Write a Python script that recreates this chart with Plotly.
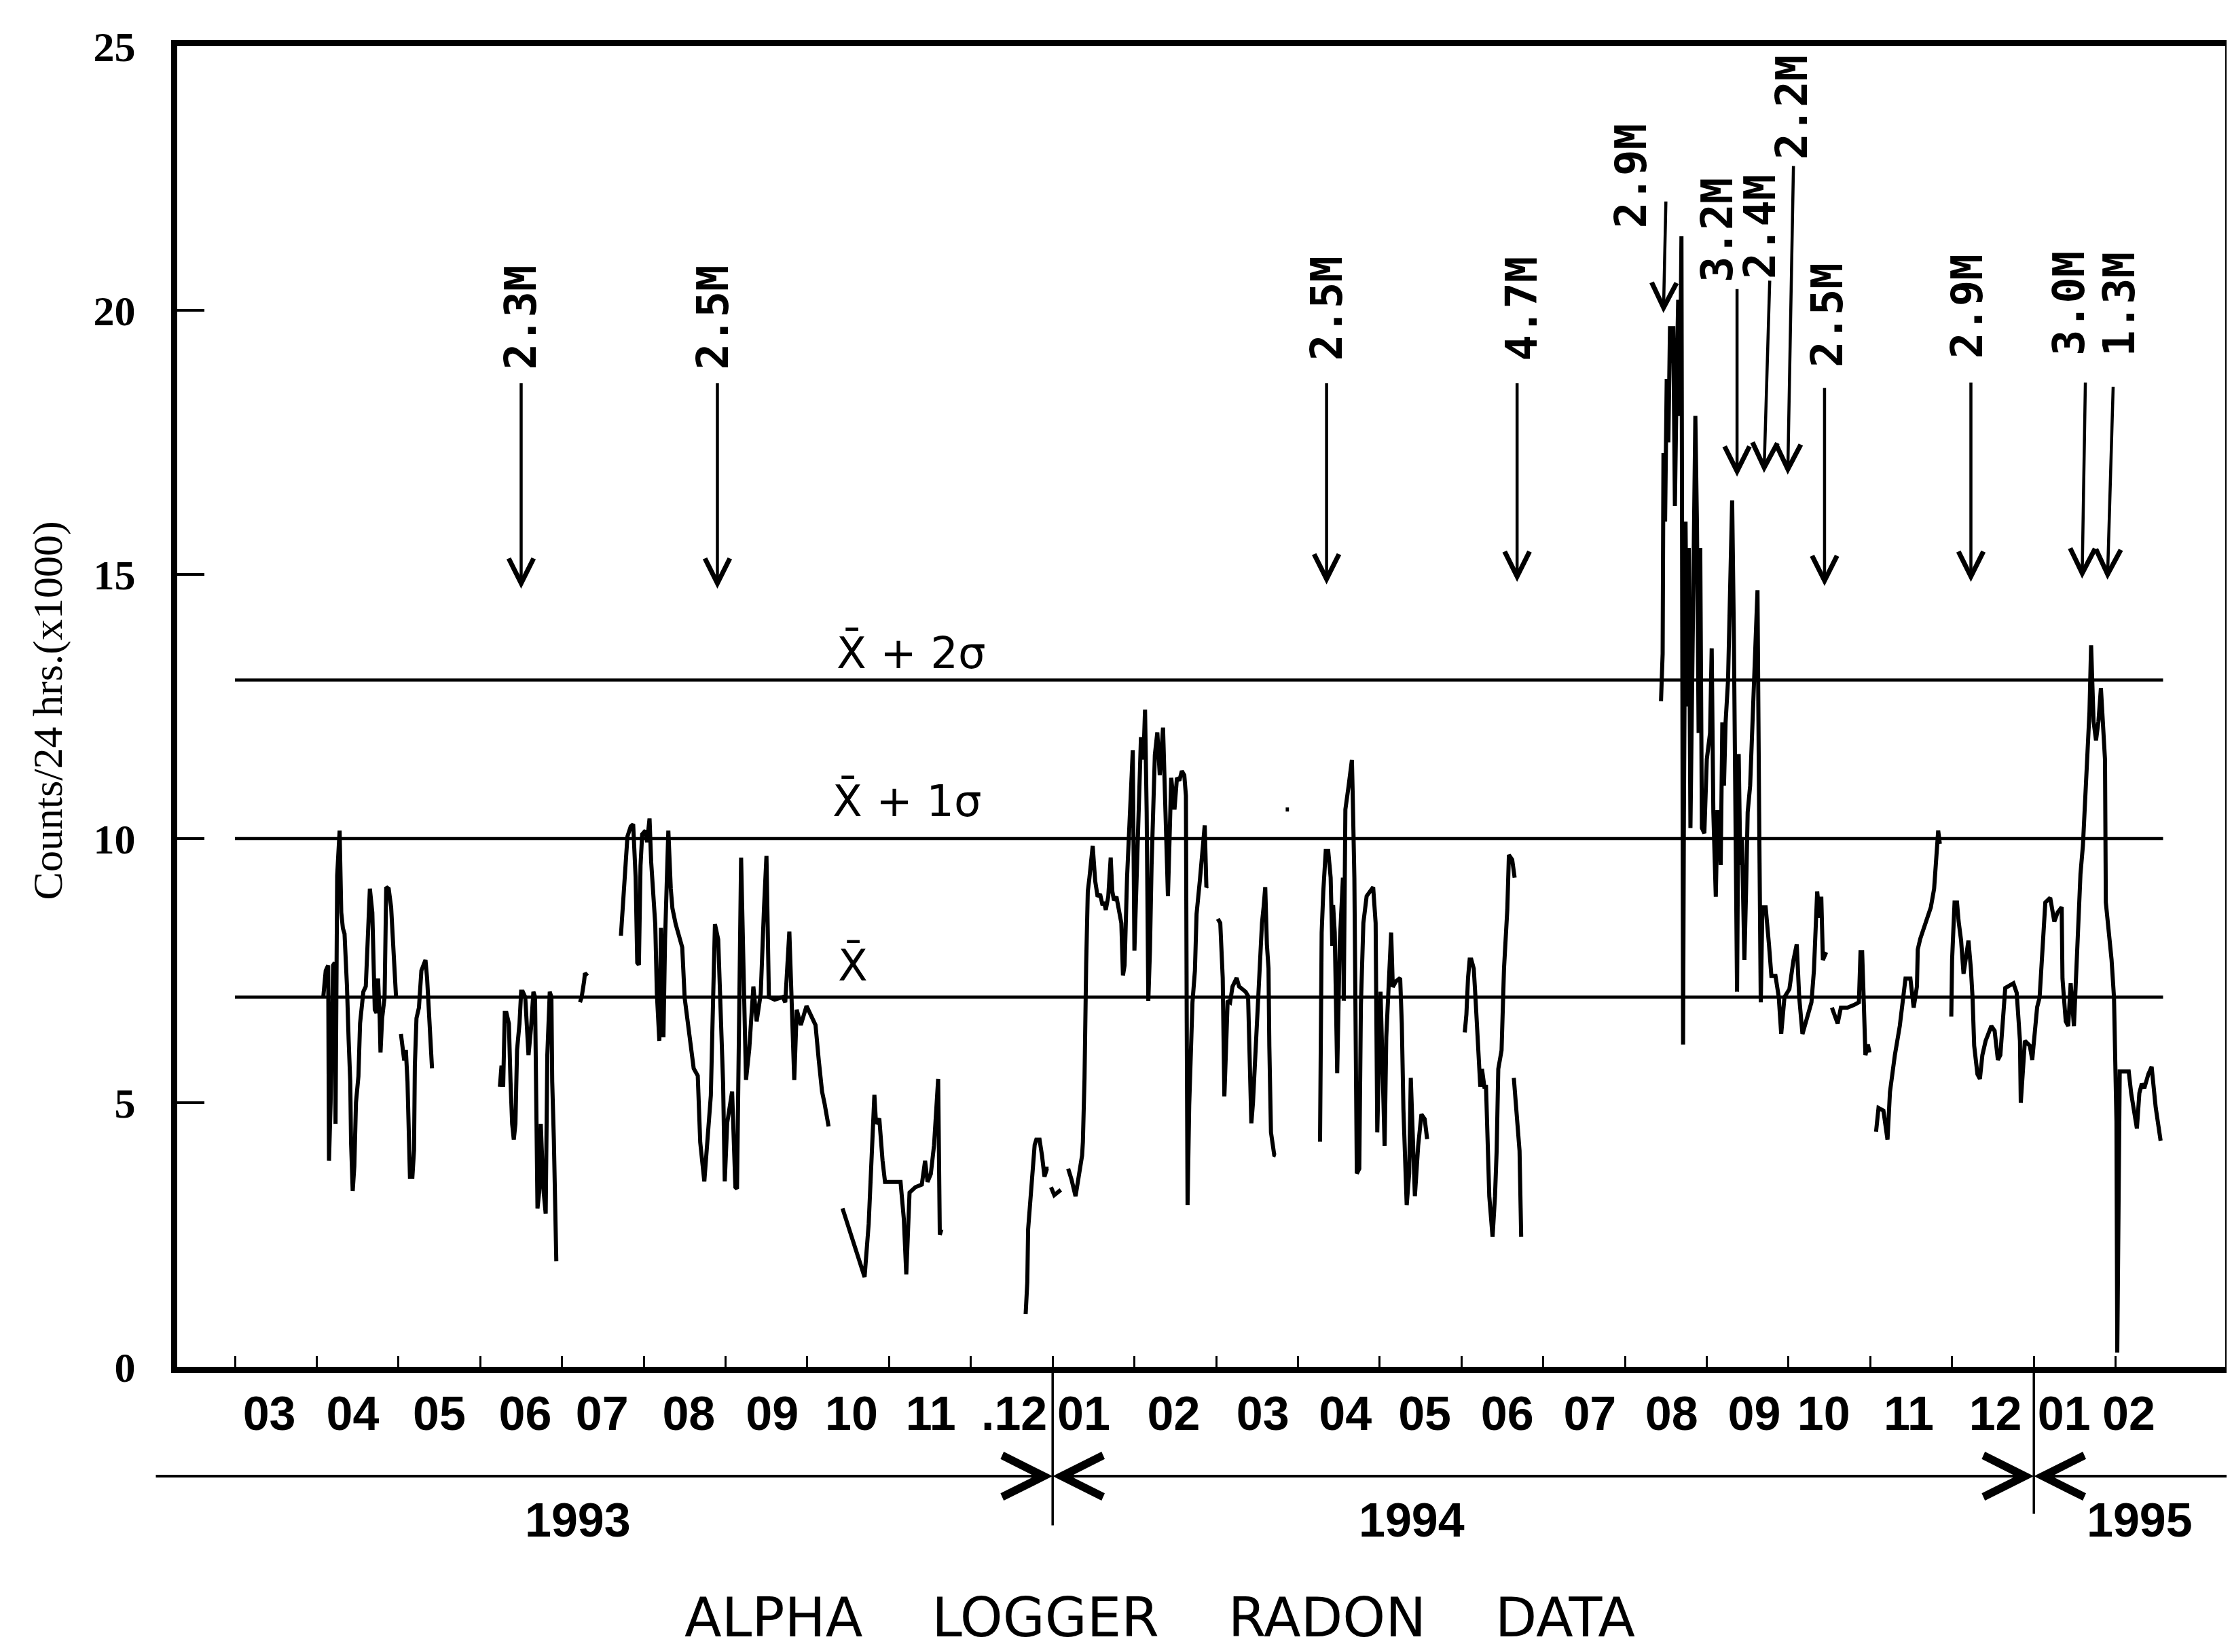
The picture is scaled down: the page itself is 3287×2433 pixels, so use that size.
import plotly.graph_objects as go

# ---------------- DATA ----------------
# t = months since 1 March 1993 (0 = start of "03" 1993), v = counts / 24 hrs (x1000)
apr93_t = [1.08, 1.11, 1.14, 1.15, 1.17, 1.20, 1.22, 1.23, 1.25, 1.28, 1.30, 1.32, 1.34, 1.36, 1.37, 1.39, 1.41, 1.42,
           1.44, 1.46, 1.48, 1.51, 1.53, 1.55, 1.57, 1.60, 1.62, 1.63, 1.65, 1.68, 1.69, 1.71, 1.73, 1.75, 1.77, 1.78,
           1.80, 1.83, 1.85, 1.88, 1.91, 1.94, 1.96, 1.97]
apr93_v = [7.0, 7.5, 7.6, 3.9, 5.0, 7.6, 7.65, 4.6, 9.3, 10.15, 8.6, 8.3, 8.2, 7.6, 7.2, 6.2, 5.4, 4.25,
           3.33, 3.8, 5.0, 5.5, 6.5, 6.8, 7.1, 7.2, 8.1, 8.6, 9.05, 8.6, 7.8, 6.76, 6.7, 7.35, 6.6, 5.95,
           6.6, 7.0, 9.08, 9.05, 8.7, 7.8, 7.35, 7.0]

may93_t = [2.03, 2.05, 2.07, 2.09, 2.11, 2.14, 2.17, 2.19, 2.20, 2.22, 2.25, 2.28, 2.31, 2.33, 2.35, 2.38, 2.40, 2.41]
may93_v = [6.3, 5.95, 5.8, 6.0, 5.4, 3.6, 3.6, 4.1, 5.7, 6.6, 6.8, 7.5, 7.65, 7.7, 7.35, 6.6, 5.8, 5.65]

jun93_t = [3.24, 3.26, 3.28, 3.30, 3.32, 3.35, 3.37, 3.39, 3.41, 3.43, 3.45, 3.48, 3.50, 3.52, 3.55, 3.59, 3.62, 3.65,
           3.67, 3.69, 3.70, 3.72, 3.74, 3.77, 3.80, 3.82, 3.85, 3.87, 3.88, 3.90, 3.92, 3.93]
jun93_v = [5.3, 5.7, 5.3, 6.7, 6.7, 6.5, 5.4, 4.6, 4.3, 4.6, 6.0, 6.5, 7.1, 7.1, 7.0, 5.9, 6.4, 7.1,
           7.0, 5.1, 3.0, 3.3, 4.6, 3.4, 2.9, 5.9, 7.1, 7.0, 5.4, 4.3, 2.0, 2.0]

jul93_t = [4.22, 4.24, 4.27, 4.28, 4.31]
jul93_v = [6.9, 7.0, 7.3, 7.45, 7.4]

aug93_t = [4.72, 4.76, 4.78, 4.80, 4.84, 4.87, 4.90, 4.92, 4.94, 4.96, 4.98, 5.02, 5.04, 5.07, 5.09, 5.11, 5.14, 5.16,
           5.19, 5.21, 5.24, 5.26, 5.30, 5.33, 5.35, 5.39, 5.43, 5.47, 5.50, 5.53, 5.58, 5.61, 5.66, 5.69, 5.74, 5.78,
           5.82, 5.84, 5.87, 5.91, 5.94, 5.97, 5.99, 6.02, 6.08, 6.12, 6.14, 6.17, 6.19, 6.22, 6.25, 6.29, 6.34, 6.38,
           6.43, 6.47, 6.50, 6.53, 6.60, 6.70, 6.73, 6.78, 6.84, 6.87, 6.92, 6.99, 7.05, 7.10, 7.14, 7.18, 7.21, 7.26]
aug93_v = [8.16, 9.05, 9.71, 10.04, 10.23, 10.27, 9.27, 7.65, 7.61, 9.49, 10.08, 10.15, 9.93, 10.38, 9.56, 9.12, 8.38, 7.06,
           6.17, 8.31, 6.24, 8.09, 10.15, 9.05, 8.68, 8.38, 8.16, 7.94, 6.98, 6.61, 5.87, 5.65, 5.51, 4.25, 3.51, 4.25,
           5.14, 6.47, 8.38, 8.09, 6.47, 5.36, 3.51, 4.62, 5.21, 3.4, 3.37, 6.9, 9.64, 7.5, 5.43, 6.02, 7.2, 6.54,
           7.06, 8.68, 9.67, 7.0, 6.95, 7.0, 6.9, 8.24, 5.43, 6.76, 6.47, 6.83, 6.61, 6.47, 5.8, 5.21, 4.99, 4.55]

oct93_t = [7.43, 7.55, 7.62, 7.70, 7.75, 7.79, 7.82, 7.84, 7.88, 7.92, 7.95, 8.01, 8.14, 8.18, 8.21, 8.25, 8.32, 8.40,
           8.44, 8.47, 8.51, 8.55, 8.60, 8.62, 8.64]
oct93_v = [3.0, 2.4, 2.05, 1.7, 2.7, 4.25, 5.15, 4.6, 4.7, 3.9, 3.5, 3.5, 3.5, 2.8, 1.75, 3.3, 3.4, 3.45,
           3.9, 3.5, 3.65, 4.2, 5.45, 2.5, 2.6]

dec93_t = [9.67, 9.69, 9.70, 9.72, 9.75, 9.78, 9.80, 9.84, 9.87, 9.90, 9.93, 9.95]
dec93_v = [1.0, 1.6, 2.6, 3.0, 3.6, 4.2, 4.3, 4.3, 4.0, 3.6, 3.75, 3.75]

dec93b_t = [9.98, 10.02, 10.10]
dec93b_v = [3.4, 3.25, 3.35]

jan94_t = [10.19, 10.23, 10.28, 10.30, 10.32, 10.36, 10.37, 10.39, 10.41, 10.43, 10.45, 10.49, 10.52, 10.55, 10.58,
           10.61, 10.63, 10.65, 10.68, 10.71, 10.73, 10.75, 10.78, 10.80, 10.84, 10.86, 10.88, 10.91, 10.95, 10.98,
           11.00, 11.02, 11.05, 11.08, 11.11, 11.13, 11.15, 11.17, 11.19, 11.21, 11.25, 11.28, 11.31, 11.35, 11.38,
           11.41, 11.43, 11.45, 11.49, 11.52, 11.55, 11.58, 11.61, 11.63, 11.64, 11.65, 11.67, 11.69, 11.71, 11.74,
           11.76, 11.80, 11.84, 11.86, 11.88, 11.89]
jan94_v = [3.75, 3.55, 3.23, 3.4, 3.66, 4.0, 4.26, 5.47, 7.62, 9.0, 9.26, 9.86, 9.2, 8.9, 8.95,
           8.74, 8.8, 8.65, 8.9, 9.64, 9.0, 8.83, 8.9, 8.74, 8.4, 7.41, 7.6, 9.26, 10.5, 11.67,
           7.88, 8.83, 10.5, 11.92, 11.5, 12.44, 10.5, 6.93, 7.88, 9.5, 11.58, 12.01, 11.2, 12.1, 10.5,
           8.91, 10.0, 11.15, 10.55, 11.15, 11.1, 11.28, 11.2, 10.81, 6.5, 3.06, 4.95, 6.0, 6.9, 7.5,
           8.57, 9.2, 9.9, 10.25, 9.08, 9.1]

mar94_t = [12.02, 12.05, 12.08, 12.10, 12.12, 12.14, 12.17, 12.20, 12.25, 12.28, 12.32, 12.36, 12.39, 12.41, 12.43,
           12.45, 12.47, 12.49, 12.51, 12.53, 12.56, 12.58, 12.60, 12.62, 12.64, 12.65, 12.67, 12.71, 12.73]
mar94_v = [8.48, 8.4, 7.36, 5.12, 6.0, 6.93, 6.9, 7.2, 7.36, 7.2, 7.15, 7.1, 7.02, 6.0, 4.61,
           5.0, 5.64, 6.2, 6.67, 7.54, 8.4, 8.7, 9.08, 8.0, 7.54, 6.07, 4.44, 4.01, 4.0]

speck94_t = [12.85, 12.89]
speck94_v = [10.55, 10.55]

apr94_t = [13.27, 13.29, 13.31, 13.32, 13.34, 13.37, 13.40, 13.42, 13.43, 13.45, 13.48, 13.51, 13.55, 13.56, 13.58,
           13.62, 13.66, 13.67, 13.69, 13.72, 13.75, 13.77, 13.80, 13.84, 13.88, 13.92, 13.95, 13.97, 14.01, 14.06,
           14.08, 14.12, 14.14, 14.16, 14.20, 14.25, 14.27, 14.29, 14.33, 14.36, 14.38, 14.43, 14.47, 14.51, 14.55,
           14.58]
apr94_v = [4.26, 8.22, 9.0, 9.43, 9.77, 9.77, 9.26, 7.97, 8.74, 8.22, 5.56, 7.97, 9.26, 6.93, 10.55,
           11.0, 11.49, 10.81, 9.26, 3.66, 3.75, 6.85, 8.4, 8.91, 9.0, 9.08, 8.4, 4.44, 7.1, 4.18,
           6.24, 7.5, 8.22, 7.19, 7.3, 7.36, 6.5, 4.87, 3.06, 3.66, 5.47, 3.23, 4.18, 4.78, 4.69,
           4.31]

jun94_t = [15.04, 15.06, 15.08, 15.10, 15.12, 15.15, 15.17, 15.19, 15.21, 15.23, 15.25, 15.28, 15.30, 15.32, 15.34,
           15.38, 15.41, 15.43, 15.45, 15.49, 15.52, 15.56, 15.58, 15.62, 15.65]
jun94_v = [6.33, 6.67, 7.36, 7.71, 7.71, 7.54, 7.02, 6.5, 5.81, 5.3, 5.64, 5.3, 5.3, 4.09, 3.23,
           2.46, 3.23, 4.09, 5.64, 5.99, 7.54, 8.65, 9.69, 9.6, 9.26]

jun94b_t = [15.64, 15.67, 15.71, 15.73]
jun94b_v = [5.47, 4.95, 4.09, 2.46]

aug94_t = [17.44, 17.46, 17.47, 17.49, 17.51, 17.53, 17.55, 17.57, 17.59, 17.61, 17.63, 17.65, 17.67, 17.69, 17.70,
           17.71, 17.72, 17.74, 17.76, 17.78, 17.80, 17.82, 17.84, 17.86, 17.88, 17.90, 17.92, 17.94, 17.97, 18.00,
           18.04, 18.06, 18.08, 18.11, 18.13, 18.15, 18.17, 18.19, 18.21, 18.23, 18.26, 18.29, 18.31, 18.33, 18.35,
           18.37, 18.39, 18.41, 18.43, 18.46, 18.48, 18.50, 18.53, 18.56, 18.59, 18.62, 18.64, 18.66, 18.68, 18.72,
           18.76, 18.79, 18.84, 18.88, 18.91, 18.95, 19.01, 19.06, 19.10, 19.13, 19.17, 19.23, 19.28, 19.31, 19.33,
           19.35, 19.38, 19.40, 19.42, 19.46]
aug94_v = [12.6, 13.5, 17.3, 16.0, 18.7, 17.5, 19.7, 19.0, 19.7, 16.3, 18.5, 20.2, 18.0, 21.4, 14.0,
           6.1, 10.5, 16.0, 12.5, 15.5, 10.2, 13.0, 16.5, 18.0, 15.9, 12.0, 15.5, 10.2, 10.1, 11.5,
           12.0, 13.6, 10.5, 8.9, 10.5, 10.5, 9.5, 12.2, 11.0, 12.2, 13.0, 15.0, 16.4, 14.0, 10.0,
           7.1, 11.6, 9.5, 10.0, 7.7, 9.0, 10.5, 11.0, 12.2, 13.5, 14.7, 10.5, 6.9, 8.7, 8.7,
           8.0, 7.4, 7.4, 7.0, 6.3, 7.0, 7.15, 7.7, 8.0, 7.0, 6.3, 6.6, 6.9, 7.5, 8.5,
           9.0, 8.5, 8.9, 7.7, 7.85]

oct94_t = [19.53, 19.57, 19.60, 19.64, 19.72, 19.80, 19.86, 19.88, 19.90, 19.92, 19.94, 19.97, 19.99]
oct94_v = [6.8, 6.6, 6.5, 6.8, 6.8, 6.85, 6.9, 7.85, 7.85, 6.9, 5.9, 6.1, 5.95]

nov94_t = [20.07, 20.10, 20.16, 20.21, 20.24, 20.27, 20.30, 20.36, 20.40, 20.43, 20.49, 20.53, 20.57, 20.58, 20.61,
           20.68, 20.74, 20.78, 20.82, 20.83, 20.85]
nov94_v = [4.45, 4.9, 4.85, 4.3, 5.2, 5.6, 5.9, 6.45, 7.0, 7.35, 7.35, 6.8, 7.2, 7.9, 8.1,
           8.45, 8.7, 9.05, 9.95, 10.15, 9.9]

dec94_t = [20.99, 21.00, 21.03, 21.06, 21.08, 21.11, 21.14, 21.19, 21.20, 21.23, 21.25, 21.27, 21.31, 21.34, 21.37,
           21.41, 21.45, 21.48, 21.52, 21.56, 21.59, 21.62, 21.65, 21.75, 21.79, 21.83, 21.84, 21.89, 21.95, 21.98,
           22.04, 22.07, 22.11, 22.14, 22.20, 22.25, 22.29, 22.34, 22.35, 22.39, 22.42, 22.45, 22.49, 22.53, 22.57,
           22.60, 22.63, 22.66, 22.68, 22.70, 22.73, 22.76, 22.79, 22.82, 22.85, 22.87, 22.88, 22.91, 22.95, 22.98,
           22.99, 23.01, 23.02, 23.03, 23.05, 23.16, 23.19, 23.26, 23.29, 23.32, 23.35, 23.40, 23.44, 23.49, 23.52,
           23.55]
dec94_v = [6.63, 7.71, 8.79, 8.79, 8.43, 8.07, 7.44, 7.89, 8.07, 7.53, 6.99, 6.08, 5.54, 5.45, 5.9,
           6.17, 6.36, 6.45, 6.36, 5.81, 5.9, 6.63, 7.17, 7.26, 7.08, 6.17, 5.0, 6.17, 6.08, 5.81,
           6.81, 6.99, 7.98, 8.79, 8.88, 8.43, 8.6, 8.7, 7.35, 6.54, 6.45, 7.26, 6.45, 8.07, 9.33,
           9.87, 10.86, 11.95, 12.4, 13.66, 12.22, 11.86, 12.22, 12.85, 11.86, 11.49, 8.79, 8.34, 7.71, 6.99,
           6.08, 4.64, 0.27, 2.0, 5.59, 5.59, 5.18, 4.51, 5.18, 5.36, 5.27, 5.54, 5.68, 4.91, 4.64,
           4.28]

# statistics of the record
mean_level = 7.0
sigma = 3.0
stat_line_t = [0.0, 23.58]

# month tick labels (positions in t) and month boundaries
month_label_t = [0.42, 1.44, 2.50, 3.55, 4.49, 5.55, 6.57, 7.54, 8.51, 9.53, 10.38, 11.48,
                 12.57, 13.58, 14.55, 15.56, 16.57, 17.57, 18.58, 19.43, 20.47, 21.53, 22.37, 23.16]
month_labels = ["03", "04", "05", "06", "07", "08", "09", "10", "11", ".12", "01", "02",
                "03", "04", "05", "06", "07", "08", "09", "10", "11", "12", "01", "02"]
month_bounds = list(range(0, 24))
y_ticks = [0, 5, 10, 15, 20, 25]

# earthquakes (magnitude labels, arrow tip/tail, label centre)
quake_labels = ["2.3M", "2.5M", "2.5M", "4.7M", "2.9M", "3.2M", "2.4M", "2.2M", "2.5M", "2.9M", "3.0M", "1.3M"]
quake_tip_t = [3.50, 5.90, 13.35, 15.68, 17.47, 18.37, 18.70, 18.99, 19.44, 21.23, 22.59, 22.90]
quake_tip_v = [14.73, 14.73, 14.81, 14.86, 19.95, 16.85, 16.92, 16.89, 14.78, 14.86, 14.92, 14.90]
quake_tail_t = [3.50, 5.90, 13.35, 15.68, 17.50, 18.37, 18.77, 19.06, 19.44, 21.23, 22.63, 22.97]
quake_tail_v = [18.64, 18.64, 18.64, 18.64, 22.08, 20.42, 20.58, 22.75, 18.55, 18.65, 18.65, 18.57]
quake_label_t = [3.50, 5.85, 13.35, 15.73, 17.08, 18.13, 18.65, 19.04, 19.47, 21.18, 22.43, 23.04]
quake_label_v = [19.87, 19.87, 20.03, 20.03, 22.54, 21.52, 21.58, 23.84, 19.90, 20.08, 20.13, 20.12]

# years
year_labels = ["1993", "1994", "1995"]
year_label_t = [4.19, 14.39, 23.29]
year_bounds_t = [10.0, 22.0]
year_span_start_t = -0.98
year_span_end_t = 24.49

# ---------------- FIGURE ----------------
segments = [(apr93_t, apr93_v), (may93_t, may93_v), (jun93_t, jun93_v), (jul93_t, jul93_v),
            (aug93_t, aug93_v), (oct93_t, oct93_v), (dec93_t, dec93_v), (dec93b_t, dec93b_v),
            (jan94_t, jan94_v), (mar94_t, mar94_v), (speck94_t, speck94_v), (apr94_t, apr94_v),
            (jun94_t, jun94_v), (jun94b_t, jun94b_v), (aug94_t, aug94_v), (oct94_t, oct94_v),
            (nov94_t, nov94_v), (dec94_t, dec94_v)]
xs, ys = [], []
for st, sv in segments:
    xs += list(st) + [None]
    ys += list(sv) + [None]

W, H = 3287, 2433
BLACK = "black"
SANS = "Liberation Sans, Arial, sans-serif"
GAP = "\u00a0" * 4

fig = go.Figure()
for lvl in [mean_level, mean_level + sigma, mean_level + 2 * sigma]:
    fig.add_trace(go.Scatter(x=stat_line_t, y=[lvl, lvl], mode="lines",
                             line=dict(color=BLACK, width=4.5), hoverinfo="skip", showlegend=False))
fig.add_trace(go.Scatter(x=xs, y=ys, mode="lines", connectgaps=False,
                         line=dict(color=BLACK, width=6), showlegend=False))

ann = []
# earthquake arrows and labels
for lab, tt, tv, at, av, lt, lv in zip(quake_labels, quake_tip_t, quake_tip_v, quake_tail_t, quake_tail_v,
                                       quake_label_t, quake_label_v):
    ann.append(dict(x=tt, y=tv, xref="x", yref="y", ax=at, ay=av, axref="x", ayref="y", text="",
                    showarrow=True, arrowhead=5, arrowsize=1.6, arrowwidth=4.5, arrowcolor=BLACK))
    ann.append(dict(x=lt, y=lv, xref="x", yref="y", text=lab, showarrow=False, textangle=-90,
                    xanchor="center", yanchor="middle",
                    font=dict(family="DejaVu Sans Mono", size=64, color=BLACK, weight="bold")))

# statistic labels
stat_texts = ["X\u0304 + 2\u03c3", "X\u0304 + 1\u03c3", "X\u0304"]
stat_text_t = [8.27, 8.22, 7.56]
stat_text_v = [13.52, 10.71, 7.60]
for s, tt, vv in zip(stat_texts, stat_text_t, stat_text_v):
    ann.append(dict(x=tt, y=vv, xref="x", yref="y", text=s, showarrow=False, xanchor="center", yanchor="middle",
                    font=dict(family="DejaVu Sans", size=64, color=BLACK)))

# year span arrows
yl = -0.0828
head = dict(showarrow=True, arrowhead=5, arrowsize=3, arrowwidth=4, arrowcolor=BLACK, text="",
            xref="x", yref="paper", axref="x", ayref="pixel", ay=0)
ann.append(dict(x=year_bounds_t[0], y=yl, ax=year_span_start_t, **head))
mid94 = (year_bounds_t[0] + year_bounds_t[1]) / 2
ann.append(dict(x=year_bounds_t[0], y=yl, ax=mid94 + 0.5, **head))
ann.append(dict(x=year_bounds_t[1], y=yl, ax=mid94 - 0.5, **head))
ann.append(dict(x=year_bounds_t[1], y=yl, ax=year_span_end_t, **head))
# year dividers
for hb, ln in zip(year_bounds_t, [235, 218]):
    ann.append(dict(x=hb, y=0, xref="x", yref="paper", ax=0, ay=ln, axref="pixel", ayref="pixel", text="",
                    showarrow=True, arrowhead=0, arrowwidth=3.5, arrowcolor=BLACK, standoff=0))
for lab, tt in zip(year_labels, year_label_t):
    ann.append(dict(x=tt, y=-0.116, xref="x", yref="paper", text=lab, showarrow=False,
                    xanchor="center", yanchor="middle",
                    font=dict(family=SANS, size=70, color=BLACK, weight="bold")))

# title and y-axis label
ann.append(dict(x=11.31, y=-0.19, xref="x", yref="paper", showarrow=False, xanchor="center", yanchor="middle",
                text="ALPHA" + GAP + "LOGGER" + GAP + "RADON" + GAP + "DATA",
                font=dict(family="DejaVu Sans", size=80, color=BLACK)))
ann.append(dict(x=-0.0633, y=0.497, xref="paper", yref="paper", showarrow=False, textangle=-90,
                xanchor="center", yanchor="middle",
                text="Counts/24 hrs.(x1000)", font=dict(family="Liberation Serif", size=62, color=BLACK)))

fig.update_layout(
    width=W, height=H, paper_bgcolor="white", plot_bgcolor="white",
    margin=dict(l=253, r=18, t=60, b=428, autoexpand=False),
    showlegend=False, annotations=ann,
    xaxis=dict(range=[-0.706, 24.34], showgrid=False, zeroline=False, showline=True, linecolor=BLACK,
               linewidth=9, mirror=True, tickmode="array", tickvals=month_label_t, ticktext=month_labels,
               ticks="", tickangle=0, ticklabelstandoff=0, automargin=False,
               tickfont=dict(family=SANS, size=70, color=BLACK, weight="bold"),
               minor=dict(tickmode="array", tickvals=month_bounds, ticks="inside", ticklen=16, tickwidth=3,
                          tickcolor=BLACK, showgrid=False)),
    yaxis=dict(range=[0, 25], showgrid=False, zeroline=False, showline=True, linecolor=BLACK, linewidth=9,
               mirror=True, tickmode="array", tickvals=y_ticks, ticks="inside", ticklen=40, tickwidth=4,
               tickcolor=BLACK, ticklabelstandoff=40, automargin=False,
               tickfont=dict(family="Liberation Serif", size=62, color=BLACK, weight="bold")),
)

fig.write_html("out.html")
